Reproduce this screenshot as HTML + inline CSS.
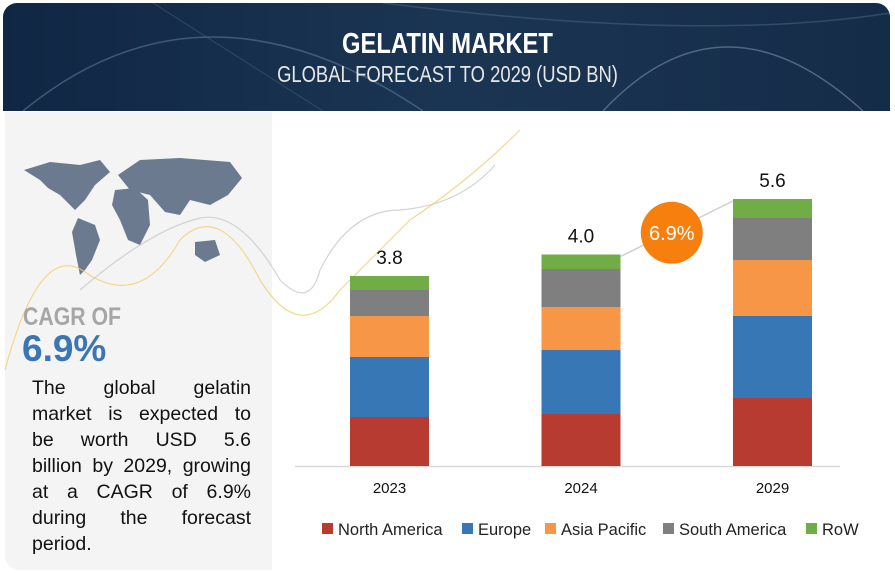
<!DOCTYPE html>
<html><head><meta charset="utf-8">
<style>
body{margin:0;width:895px;height:573px;background:#fff;overflow:hidden;font-family:"Liberation Sans",sans-serif;position:relative}
.hdr{position:absolute;left:3px;top:3px;width:887px;height:108px;border-radius:14px 14px 0 0;background:linear-gradient(90deg,#102744,#1a3553 50%,#152c48);overflow:hidden}
.t1{position:absolute;left:0;width:895px;top:28px;text-align:center;color:#fff;font:bold 29px "Liberation Sans Narrow","Liberation Sans",sans-serif;transform:scaleX(.82)}
.t2{position:absolute;left:0;width:895px;top:61px;text-align:center;color:#e8e8e8;font:23px "Liberation Sans Narrow","Liberation Sans",sans-serif;transform:scaleX(.8)}
.lp{position:absolute;left:5px;top:112px;width:267px;height:458px;background:#f4f4f4;border-radius:0 0 0 14px}
.cagr{position:absolute;left:23px;top:303px;color:#a6a6a6;font:bold 25px "Liberation Sans Narrow","Liberation Sans",sans-serif;transform:scaleX(.85);transform-origin:left}
.big{position:absolute;left:22px;top:328px;color:#3a76b4;font:bold 37px "Liberation Sans",sans-serif}
.desc{position:absolute;left:32px;top:375px;width:219px;font-size:19.5px;line-height:26px;color:#111}
.desc div{text-align:justify;text-align-last:justify;white-space:nowrap;height:26px}
.desc div.last{text-align-last:left}
</style></head><body>
<div class="hdr">
<svg width="887" height="108" style="position:absolute;left:0;top:0">
<path d="M20 108 Q200 -40 420 108" stroke="#5a7a95" fill="none" stroke-width="1.5" opacity=".6"/>
<path d="M600 108 Q720 -20 860 108" stroke="#7a8da0" fill="none" stroke-width="1.5" opacity=".6"/>
<path d="M380 0 Q700 40 887 10" stroke="#4a6a85" fill="none" stroke-width="1.5" opacity=".5"/>
<path d="M150 0 L320 108" stroke="#4a6a85" fill="none" stroke-width="1" opacity=".5"/>
</svg>
</div>
<div class="t1">GELATIN MARKET</div>
<div class="t2">GLOBAL FORECAST TO 2029 (USD BN)</div>
<div class="lp"></div>
<svg width="895" height="573" style="position:absolute;left:0;top:0">
<g fill="#6b7a8f">
<path d="M24 170 L50 162 L80 165 L100 160 L110 172 L95 185 L85 200 L75 210 L70 205 L60 195 L48 188 L40 180 Z"/>
<path d="M78 218 L95 225 L100 240 L92 260 L85 270 L80 275 L76 255 L72 232 Z"/>
<path d="M115 190 L135 188 L148 200 L150 225 L140 245 L128 240 L120 220 L112 205 Z"/>
<path d="M118 175 L140 160 L180 158 L230 162 L242 178 L228 195 L210 205 L190 200 L180 215 L165 212 L150 195 L130 190 Z"/>
<path d="M195 242 L215 240 L220 255 L205 262 L195 255 Z"/>
</g>
<path d="M5 370 Q40 240 85 272 Q140 310 180 240 Q220 200 260 280 Q300 345 340 290 Q380 250 410 220 Q470 180 520 130" stroke="#f3cf6e" fill="none" stroke-width="1.2" opacity=".8"/>
<path d="M80 290 Q150 230 200 218 Q240 210 280 280 Q310 310 320 270 Q350 210 400 210 Q460 205 495 165" stroke="#c8c8c8" fill="none" stroke-width="1.2" opacity=".8"/>
</svg>
<div class="cagr">CAGR OF</div>
<div class="big">6.9%</div>
<div class="desc"><div>The global gelatin</div><div>market is expected to</div><div>be worth USD 5.6</div><div>billion by 2029, growing</div><div>at a CAGR of 6.9%</div><div>during the forecast</div><div class="last">period.</div></div>
<svg id="chart" width="895" height="573" style="position:absolute;left:0;top:0"></svg>
<script>
const categories=["2023","2024","2029"];
const totals=["3.8","4.0","5.6"];
const seriesNames=["North America","Europe","Asia Pacific","South America","RoW"];
const northAmerica=[0.98,1.04,1.36];
const europe=[1.2,1.28,1.64];
const asiaPacific=[0.82,0.86,1.12];
const southAmerica=[0.52,0.76,0.84];
const row=[0.28,0.29,0.38];
const colors=["#b83b32","#3777b5","#f79646","#7f7f7f","#70ad47"];
const series=[northAmerica,europe,asiaPacific,southAmerica,row];
const NS="http://www.w3.org/2000/svg";
const svg=document.getElementById('chart');
const base=466, pxPerUnit=50;
const y=v=>base-v*pxPerUnit;
const x0=389.5, step=191.5;
const xc=i=>x0+i*step;
const bw=79;
function mk(t,a){const e=document.createElementNS(NS,t);for(const k in a)e.setAttribute(k,a[k]);svg.appendChild(e);return e;}
const ax=mk('line',{x1:295,x2:840,y1:base+0.5,y2:base+0.5,stroke:'#d9d9d9','stroke-width':1.5});


const tops=[];
categories.forEach((c,i)=>{
 let cum=0;
 series.forEach((s,j)=>{
  const r=mk('rect',{x:xc(i)-bw/2,y:y(cum+s[i]),width:bw,height:s[i]*pxPerUnit,fill:colors[j]});
  
  
  cum+=s[i];
 });
 tops.push(y(cum));
 const t=mk('text',{x:xc(i),y:y(cum)-12,'text-anchor':'middle','font-size':19,fill:'#111','font-family':'Liberation Sans'});
 t.textContent=totals[i];
 
 
 const l=mk('text',{x:xc(i),y:base+27,'text-anchor':'middle','font-size':15,fill:'#111','font-family':'Liberation Sans'});
 l.textContent=c;
 
 
});
const arr=mk('line',{x1:xc(1)+bw/2,y1:tops[1]+2,x2:xc(2)-bw/2,y2:tops[2]+2,stroke:'#cfcfcf','stroke-width':1.5});


const cx=(xc(1)+xc(2))/2-5, cy=(tops[1]+tops[2])/2+6;
const circ=mk('circle',{cx:cx,cy:cy,r:31,fill:'#f77f0e'});


const ct=mk('text',{x:cx,y:cy+7,'text-anchor':'middle','font-size':20,fill:'#fff','font-family':'Liberation Sans'});
ct.textContent='6.9%';


const lx=[322,462,545,663,806];
seriesNames.forEach((n,j)=>{
 const r=mk('rect',{x:lx[j],y:523,width:11,height:11,fill:colors[j]});
 
 
 const t=mk('text',{x:lx[j]+16,y:535,'font-size':16.5,fill:'#222','font-family':'Liberation Sans'});
 t.textContent=n;
 
 
});
</script>
</body></html>
